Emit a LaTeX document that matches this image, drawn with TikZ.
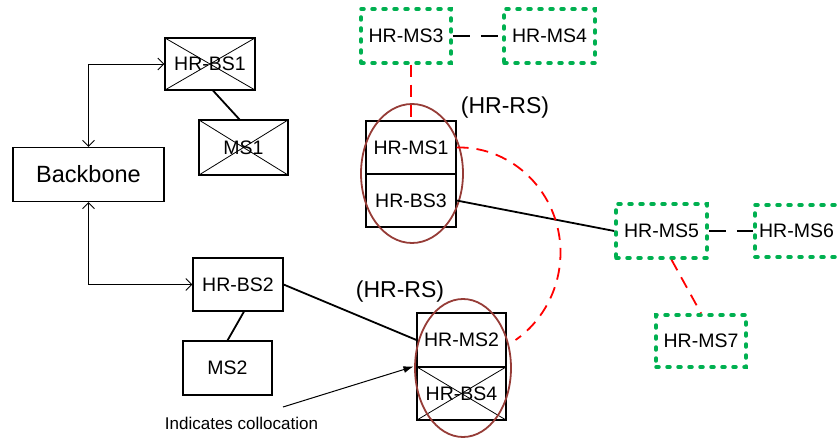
\documentclass[tikz,border=0pt]{standalone}
\usepackage{fontspec}
\setmainfont{Liberation Sans}
\usetikzlibrary{arrows.meta,calc,shapes.geometric}
\definecolor{grn}{RGB}{0,176,80}
\definecolor{rsbrown}{RGB}{150,60,55}
\definecolor{dred}{RGB}{255,0,0}
\begin{document}
\begin{tikzpicture}[x=1pt,y=-1pt,
  lbl/.style={font=\fontsize{19.5}{22}\selectfont},
  box/.style={draw,line width=1.1pt,inner sep=0pt,lbl},
  crossed/.style={path picture={\draw[line width=0.8pt] (path picture bounding box.north west) -- (path picture bounding box.south east) (path picture bounding box.south west) -- (path picture bounding box.north east);}},
  gbox/.style={draw=grn,line width=3.5pt,line cap=round,dash pattern=on 3pt off 8pt,inner sep=0pt,lbl},
  rsell/.style={ellipse,draw=rsbrown,line width=1.8pt,inner sep=0pt},
  conn/.style={line width=1.8pt},
  bdash/.style={line width=1.8pt,dash pattern=on 17pt off 11pt},
  rdash/.style={draw=dred,line width=1.8pt,dash pattern=on 12pt off 8pt},
  barb/.style={line width=0.9pt,{Straight Barb[length=6pt,width=12pt]}-{Straight Barb[length=6pt,width=12pt]}}
]
\useasboundingbox (0,0) rectangle (840,438);
\clip (0,0) rectangle (840,438);
% left part
\node[box,minimum width=151pt,minimum height=54pt,font=\fontsize{23.5}{26}\selectfont] (backbone) at (88.5,174.5) {Backbone};
\node[box,crossed,minimum width=90pt,minimum height=52pt] (hrbs1) at (210,64) {HR-BS1};
\node[box,crossed,minimum width=89pt,minimum height=55pt] (ms1) at (243.5,147.5) {MS1};
\node[box,minimum width=90pt,minimum height=53pt] (hrbs2) at (238,284.5) {HR-BS2};
\node[box,minimum width=89pt,minimum height=54pt] (ms2) at (227.5,368) {MS2};
% RS stacks
\node[box,minimum width=90pt,minimum height=53pt] (hrms1) at (411,147.5) {HR-MS1};
\node[box,minimum width=90pt,minimum height=53pt] (hrbs3) at (411,200.5) {HR-BS3};
\node[box,minimum width=89pt,minimum height=54pt] (hrms2) at (461.5,340) {HR-MS2};
\node[box,crossed,minimum width=89pt,minimum height=53pt] (hrbs4) at (461.5,393.5) {HR-BS4};
\node[rsell,minimum width=102pt,minimum height=139pt] (rs1) at (412,173.5) {};
\node[rsell,minimum width=96pt,minimum height=138pt] (rs2) at (463,368) {};
\node[font=\fontsize{23}{26}\selectfont] (rslbl1) at (505,108) {(HR-RS)};
\node[font=\fontsize{23}{26}\selectfont] (rslbl2) at (400,292) {(HR-RS)};
% green nodes
\node[gbox,minimum width=90pt,minimum height=54pt] (hrms3) at (406,36) {HR-MS3};
\node[gbox,minimum width=91pt,minimum height=54pt] (hrms4) at (549.5,36) {HR-MS4};
\node[gbox,minimum width=91pt,minimum height=54pt] (hrms5) at (661.5,231) {HR-MS5};
\node[gbox,minimum width=91pt,minimum height=52pt] (hrms6) at (800.5,231) {\hspace*{-4pt}HR-MS6\hspace*{4pt}};
\node[gbox,minimum width=90pt,minimum height=52pt] (hrms7) at (701,341) {HR-MS7};
% note
\node[font=\fontsize{17}{19}\selectfont] (note) at (241.5,423) {Indicates collocation};
\coordinate (ns) at (283,407);
% connectors
\draw[barb] (backbone.north) |- (hrbs1.west);
\draw[barb] (backbone.south) |- (hrbs2.west);
\draw[conn] ($(hrbs1.south)+(3,0)$) -- ($(ms1.north)+(-4,0)$);
\draw[conn] ($(hrbs2.south)+(6,0)$) -- (ms2.north);
\draw[conn] (hrbs2.east) -- (hrms2.west);
\draw[conn] (hrbs3.east) -- (hrms5.west);
\draw[bdash] (hrms3.east) -- (hrms4.west);
\draw[bdash] (hrms5.east) -- (hrms6.west);
\draw[rdash] (hrms3.south -| hrms1.north) -- (hrms1.north);
\draw[rdash] ($(hrms5.south)+(10,0)$) -- (hrms7.north);
\draw[rdash] (hrms1.east) .. controls (513.6,146) and (560.5,193.9) .. (560.5,252.5)
  .. controls (560.5,287.6) and (543.4,320.5) .. ($(hrms2.east)+(9,0)$);
\draw[line width=1pt,-{Latex[length=10pt,width=7pt]}] (ns) -- ($(hrms2.south west)+(-3,-1)$);
\end{tikzpicture}
\end{document}
